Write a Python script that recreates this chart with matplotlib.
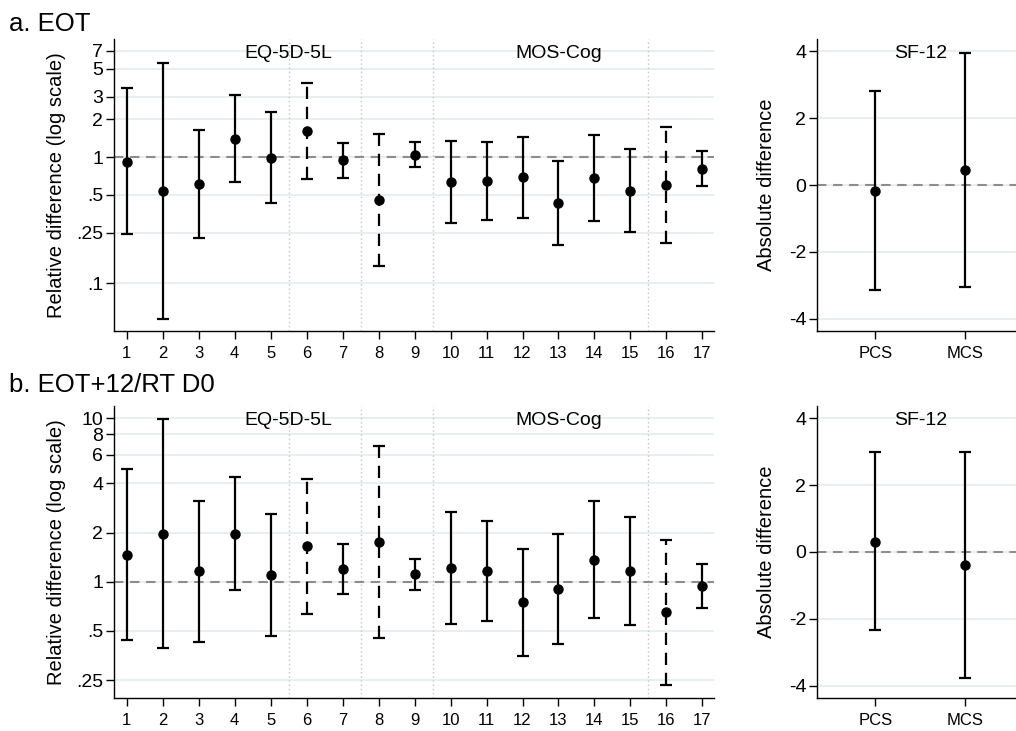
import matplotlib
matplotlib.use("Agg")
import matplotlib.pyplot as plt
from matplotlib.ticker import NullLocator, FixedLocator, FixedFormatter
import numpy as np

plt.rcParams['font.family'] = ['Liberation Sans', 'DejaVu Sans']

# ---- data -------------------------------------------------------------
items = list(range(1, 18))
dashed_items = [6, 8, 16]
dividers = [5.5, 7.5, 9.5, 15.5]
group_labels = ["EQ-5D-5L", "MOS-Cog"]
group_label_x = [5.5, 13]

eot_est = [0.92, 0.54, 0.61, 1.40, 0.99, 1.61, 0.94, 0.46, 1.04, 0.63, 0.645, 0.69, 0.43, 0.68, 0.54, 0.60, 0.81]
eot_lo = [0.245, 0.052, 0.228, 0.633, 0.429, 0.669, 0.685, 0.137, 0.838, 0.298, 0.318, 0.330, 0.20, 0.31, 0.254, 0.207, 0.589]
eot_hi = [3.53, 5.57, 1.64, 3.12, 2.29, 3.89, 1.29, 1.53, 1.32, 1.34, 1.31, 1.45, 0.925, 1.50, 1.15, 1.73, 1.11]

d0_est = [1.46, 1.97, 1.16, 1.97, 1.10, 1.65, 1.20, 1.76, 1.11, 1.21, 1.16, 0.75, 0.90, 1.36, 1.17, 0.65, 0.945]
d0_lo = [0.442, 0.395, 0.428, 0.886, 0.466, 0.634, 0.845, 0.454, 0.886, 0.551, 0.572, 0.351, 0.414, 0.597, 0.546, 0.232, 0.693]
d0_hi = [4.87, 9.86, 3.13, 4.37, 2.58, 4.27, 1.69, 6.8, 1.38, 2.66, 2.36, 1.59, 1.97, 3.12, 2.50, 1.81, 1.29]

sf12_labels = ["PCS", "MCS"]
sf_eot_est = [-0.18, 0.44]
sf_eot_lo = [-3.13, -3.06]
sf_eot_hi = [2.80, 3.94]
sf_d0_est = [0.31, -0.39]
sf_d0_lo = [-2.34, -3.77]
sf_d0_hi = [2.99, 2.99]

eot_ticks = [0.1, 0.25, 0.5, 1, 2, 3, 5, 7]
eot_ticklabels = [".1", ".25", ".5", "1", "2", "3", "5", "7"]
d0_ticks = [0.25, 0.5, 1, 2, 4, 6, 8, 10]
d0_ticklabels = [".25", ".5", "1", "2", "4", "6", "8", "10"]
sf_ticks = [-4, -2, 0, 2, 4]
sf_ticklabels = ["-4", "-2", "0", "2", "4"]

# ---- style ------------------------------------------------------------
GRID = "#e4ecef"
REF = "#8c8c8c"
DIV = "#c4c4c4"
W, H = 1016, 731

fig = plt.figure(figsize=(W / 100, H / 100), dpi=100)
fig.patch.set_facecolor("white")


def px_axes(left, top, right, bottom):
    return fig.add_axes([left / W, (H - bottom) / H, (right - left) / W, (bottom - top) / H])


def style_axes(ax, ytick_vals, ytick_labels, xlabelsize):
    for s in ["top", "right"]:
        ax.spines[s].set_visible(False)
    for s in ["left", "bottom"]:
        ax.spines[s].set_linewidth(1.0)
        ax.spines[s].set_color("black")
    ax.yaxis.set_major_locator(FixedLocator(ytick_vals))
    ax.yaxis.set_major_formatter(FixedFormatter(ytick_labels))
    ax.yaxis.set_minor_locator(NullLocator())
    ax.tick_params(axis="y", length=6, width=1.0, labelsize=14, pad=2)
    ax.tick_params(axis="x", length=6, width=1.0, labelsize=xlabelsize, pad=5)
    for v in ytick_vals:
        ax.axhline(v, color=GRID, lw=1.2, zorder=0)


def draw_items(ax, est, lo, hi):
    est = np.asarray(est)
    yerr = np.vstack([est - np.asarray(lo), np.asarray(hi) - est])
    for i, x in enumerate(items):
        cont = ax.errorbar([x], [est[i]], yerr=yerr[:, i:i + 1], fmt="o", color="black",
                           ms=6.5, elinewidth=1.6, capsize=4, capthick=1.6, zorder=3)
        if x in dashed_items:
            for lc in cont[2]:
                lc.set_linestyle((0, (5.5, 3.5)))


def item_panel(ax, est, lo, hi, ylim, ticks, labels):
    ax.set_yscale("log")
    ax.set_xlim(0.655, 17.33)
    ax.set_ylim(*ylim)
    style_axes(ax, ticks, labels, 12)
    ax.set_xticks(items)
    ax.set_xticklabels([str(i) for i in items])
    for d in dividers:
        ax.axvline(d, color=DIV, lw=1.0, ls=(0, (1, 2)), zorder=1)
    ax.axhline(1, color=REF, lw=1.5, ls=(0, (4.5, 3.2)), zorder=2)
    draw_items(ax, est, lo, hi)
    for lab, x in zip(group_labels, group_label_x):
        ax.text(x, 0.95, lab, transform=ax.get_xaxis_transform(), ha="center", va="center",
                fontsize=14, zorder=4)


def sf_panel(ax, est, lo, hi):
    ax.set_xlim(0.358, 2.56)
    ax.set_ylim(-4.37, 4.37)
    style_axes(ax, sf_ticks, sf_ticklabels, 12)
    ax.set_xticks([1, 2])
    ax.set_xticklabels(sf12_labels)
    ax.axhline(0, color=REF, lw=1.5, ls=(0, (4.5, 3.2)), zorder=2)
    est = np.asarray(est)
    yerr = np.vstack([est - np.asarray(lo), np.asarray(hi) - est])
    ax.errorbar([1, 2], est, yerr=yerr, fmt="o", color="black", ms=6.5,
                elinewidth=1.6, capsize=4, capthick=1.6, zorder=3)
    ax.text(1.5, 0.95, "SF-12", transform=ax.get_xaxis_transform(), ha="center", va="center",
            fontsize=14, zorder=4)


ax1 = px_axes(114.3, 39, 714.3, 331)
item_panel(ax1, eot_est, eot_lo, eot_hi, (0.0416, 8.65), eot_ticks, eot_ticklabels)
ax2 = px_axes(817.3, 39, 1016, 331)
sf_panel(ax2, sf_eot_est, sf_eot_lo, sf_eot_hi)

ax3 = px_axes(114.3, 406, 714.3, 697.7)
item_panel(ax3, d0_est, d0_lo, d0_hi, (0.195, 11.9), d0_ticks, d0_ticklabels)
ax4 = px_axes(817.3, 406, 1016, 698)
sf_panel(ax4, sf_d0_est, sf_d0_lo, sf_d0_hi)

# axis titles
for yc in (185, 552):
    fig.text(56 / W, 1 - yc / H, "Relative difference (log scale)", rotation=90,
             ha="center", va="center", fontsize=14.5)
    fig.text(767 / W, 1 - yc / H, "Absolute difference", rotation=90,
             ha="center", va="center", fontsize=14.5)

# panel headings
fig.text(9 / W, 1 - 31 / H, "a. EOT", ha="left", va="baseline", fontsize=18.5)
fig.text(9 / W, 1 - 392 / H, "b. EOT+12/RT D0", ha="left", va="baseline", fontsize=18.5)

fig.savefig("out.png", dpi=100, facecolor="white")
